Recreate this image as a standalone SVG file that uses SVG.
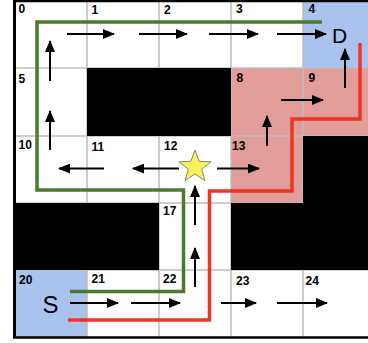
<svg xmlns="http://www.w3.org/2000/svg" width="368" height="343" viewBox="0 0 368 343">
<style>
.lbl{font-family:"Liberation Sans",Arial,sans-serif;font-size:12px;font-weight:bold;fill:#000}
.big{font-family:"Liberation Sans",Arial,sans-serif;fill:#000}
.grid{stroke:#bdbdbd;stroke-width:1.5;fill:none}
.arr{stroke:#000;stroke-width:2;fill:none;marker-end:url(#ah)}
.blk{fill:#000}
.blue{fill:#a9c3ee}
.pink{fill:#e29d9b}
.path{fill:none;stroke-width:3.5;stroke-linejoin:miter}
</style>
<defs>
<marker id="ah" viewBox="0 0 12 10" refX="11" refY="5" markerWidth="12" markerHeight="10" markerUnits="userSpaceOnUse" orient="auto">
<path d="M0,0 L12,5 L0,10 z" fill="#000"/>
</marker>
</defs>
<rect x="0" y="0" width="368" height="343" fill="#fff"/>
<g id="colour-cells">
<rect class="blue" x="303" y="1" width="65" height="67"/>
<rect class="blue" x="15" y="270" width="72" height="67"/>
<rect class="pink" x="231" y="68" width="137" height="68"/>
<rect class="pink" x="231" y="136" width="72" height="67"/>
</g>
<g id="grid">
<path class="grid" d="M87,1V337M159,1V337M231,1V337M303,1V337M15,68H368M15,136H368M15,203H368M15,270H368"/>
</g>
<g id="walls">
<rect class="blk" x="87" y="68" width="144" height="68"/>
<rect class="blk" x="303" y="136" width="65" height="67"/>
<rect class="blk" x="15" y="203" width="144" height="67"/>
<rect class="blk" x="231" y="203" width="137" height="67"/>
</g>
<g id="border">
<path d="M14.5,0V338" stroke="#000" stroke-width="3"/>
<path d="M13,1H368" stroke="#000" stroke-width="2.5"/>
<path d="M13,337.5H368" stroke="#000" stroke-width="2.5"/>
</g>
<g id="labels">
<text class="lbl" x="18.5" y="13">0</text>
<text class="lbl" x="91.5" y="13.5">1</text>
<text class="lbl" x="164" y="13.5">2</text>
<text class="lbl" x="236" y="13">3</text>
<text class="lbl" x="308.5" y="13">4</text>
<text class="lbl" x="18.5" y="83">5</text>
<text class="lbl" x="236.5" y="82">8</text>
<text class="lbl" x="308.5" y="82">9</text>
<text class="lbl" x="18.5" y="148.5">10</text>
<text class="lbl" x="91.5" y="151">11</text>
<text class="lbl" x="164" y="150">12</text>
<text class="lbl" x="232" y="150">13</text>
<text class="lbl" x="163" y="214.5">17</text>
<text class="lbl" x="19" y="284">20</text>
<text class="lbl" x="91.5" y="283">21</text>
<text class="lbl" x="163" y="283">22</text>
<text class="lbl" x="236" y="284.5">23</text>
<text class="lbl" x="305.5" y="284.5">24</text>
</g>
<g id="connectors">
<path class="arr" d="M67,34H114"/>
<path class="arr" d="M139,34H187"/>
<path class="arr" d="M209,34H258"/>
<path class="arr" d="M277,34H326"/>
<path class="arr" d="M50,81V41"/>
<path class="arr" d="M50,150V111"/>
<path class="arr" d="M104,168.5H59"/>
<path class="arr" d="M179,168.5H133"/>
<path class="arr" d="M217,168.5H259"/>
<path class="arr" d="M267,146V116"/>
<path class="arr" d="M281,100H323"/>
<path class="arr" d="M345,88V49"/>
<path class="arr" d="M195,225V186"/>
<path class="arr" d="M195,287V248"/>
<path class="arr" d="M70,303H118"/>
<path class="arr" d="M131,303H180"/>
<path class="arr" d="M221,303H256"/>
<path class="arr" d="M277,303H327"/>
</g>
<g id="routes">
<path id="green-route" class="path" stroke="#4c7a2c" d="M70,291.5H183.5V190H37V22H322"/>
<path id="red-route" class="path" stroke="#ee3524" d="M68,320H209.5V191H292V119H360V43"/>
</g>
<g id="star">
<polygon points="195,150 199.11,161.34 211.17,161.75 201.66,169.16 204.99,180.75 195,174 185.01,180.75 188.34,169.16 178.83,161.75 190.89,161.34" fill="#f7f15a" stroke="#8a8a70" stroke-width="1"/>
</g>
<g id="start">
<text class="big" x="50.5" y="313" font-size="24" text-anchor="middle">S</text>
</g>
<g id="dest">
<text class="big" x="339.5" y="42.5" font-size="21" text-anchor="middle">D</text>
</g>
</svg>
